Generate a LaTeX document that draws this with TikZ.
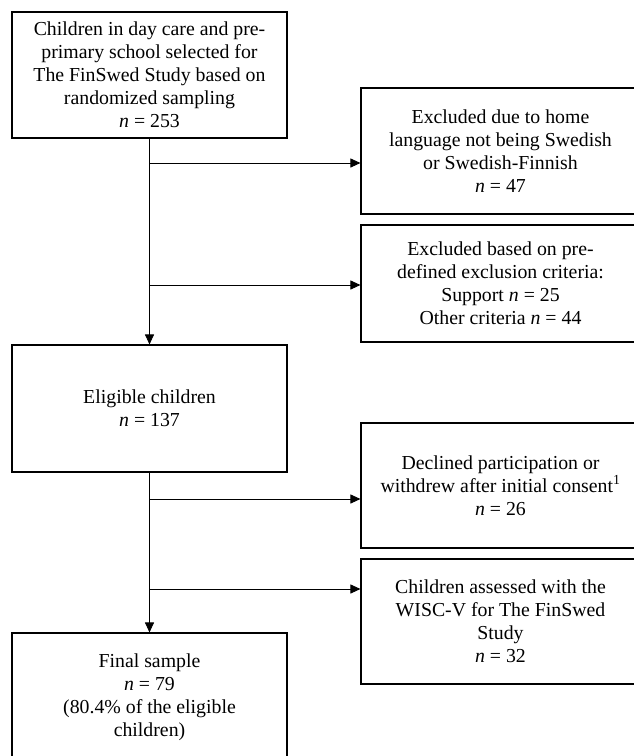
\documentclass[tikz,border=0pt]{standalone}
\usepackage{fontspec}
\setmainfont{Liberation Serif}
\usetikzlibrary{arrows.meta, positioning}

\begin{document}
\begin{tikzpicture}[x=1pt, y=-1pt,
    box/.style={draw, line width=1.1pt, align=center, inner sep=0pt,
        font=\fontsize{19.8}{23}\selectfont},
    mainbox/.style={box, minimum width=275pt},
    sidebox/.style={box, minimum width=279pt},
    flow/.style={line width=0.9pt, -{Triangle[length=10pt, width=9pt]}}]

    \useasboundingbox (0,0) rectangle (633,756);

    % Main column
    \node[mainbox, minimum height=126pt] (sel) at (149.5, 75)
        {Children in day care and pre-\\primary school selected for\\The FinSwed Study based on\\randomized sampling\\\textit{n} = 253};
    \node[mainbox, minimum height=127pt] (elig) at (149.5, 408.5)
        {Eligible children\\\textit{n} = 137};
    \node[mainbox, minimum height=128pt] (final) at (149.5, 697)
        {Final sample\\\textit{n} = 79\\(80.4\% of the eligible\\children)};

    % Side boxes
    \node[sidebox, minimum height=126pt] (lang) at (500.5, 151)
        {Excluded due to home\\language not being Swedish\\or Swedish-Finnish\\\textit{n} = 47};
    \node[sidebox, minimum height=117pt] (crit) at (500.5, 283.5)
        {Excluded based on pre-\\defined exclusion criteria:\\Support \textit{n} = 25\\Other criteria \textit{n} = 44};
    \node[sidebox, minimum height=125pt] (decl) at (500.5, 485.5)
        {Declined participation or\\withdrew after initial consent\textsuperscript{1}\\\textit{n} = 26};
    \node[sidebox, minimum height=125pt] (wisc) at (500.5, 621.5)
        {Children assessed with the\\WISC-V for The FinSwed\\Study\\\textit{n} = 32};

    % Branch points on the vertical lines
    \coordinate (b1) at (sel.south |- 0,163);
    \coordinate (b2) at (sel.south |- 0,285);
    \coordinate (b3) at (elig.south |- 0,499);
    \coordinate (b4) at (elig.south |- 0,589);

    \draw[flow] (sel) -- (elig);
    \draw[flow] (elig) -- (final);
    \draw[flow] (b1) -- (b1 -| lang.west);
    \draw[flow] (b2) -- (b2 -| crit.west);
    \draw[flow] (b3) -- (b3 -| decl.west);
    \draw[flow] (b4) -- (b4 -| wisc.west);

\end{tikzpicture}
\end{document}
